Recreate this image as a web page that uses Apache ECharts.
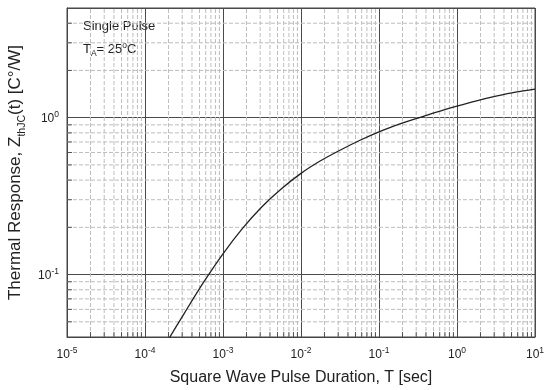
<!DOCTYPE html>
<html>
<head>
<meta charset="utf-8">
<script src="https://cdn.jsdelivr.net/npm/echarts@6/dist/echarts.min.js"></script>
<style>html,body{margin:0;padding:0;background:#fff}#c{width:555px;height:390px}</style>
</head>
<body>
<div id="c"></div>
<script>
// Data (quarter-decade samples of the curve)
var pulseT = [1.78e-4, 3.16e-4, 5.62e-4, 1e-3, 1.78e-3, 3.16e-3, 5.62e-3, 1e-2, 1.78e-2, 3.16e-2, 5.62e-2, 0.1, 0.178, 0.316, 0.562, 1, 1.78, 3.16, 5.62, 10];
var zthJC  = [0.0351, 0.0562, 0.0891, 0.1357, 0.197, 0.2707, 0.3527, 0.4416, 0.531, 0.6199, 0.715, 0.812, 0.905, 0.995, 1.09, 1.1845, 1.28, 1.37, 1.455, 1.52];

var xTicks = [1e-5, 1e-4, 1e-3, 1e-2, 1e-1, 1, 10];
var xTickExp = ['-5', '-4', '-3', '-2', '-1', '0', '1'];
var yTicks = [0.1, 1];
var yTickExp = ['-1', '0'];

var xMinorMant = [2, 3, 4, 5, 6, 7, 8, 9];
var xMinorDecades = [1e-5, 1e-4, 1e-3, 1e-2, 1e-1, 1];
var yMinor = [0.05, 0.06, 0.07, 0.08, 0.09, 0.2, 0.3, 0.4, 0.5, 0.6, 0.7, 0.8, 0.9, 2, 3, 4];

var xMin = 1e-5, xMax = 10, yMin = 0.04, yMax = 5;

var xMinor = [];
xMinorDecades.forEach(function (d) { xMinorMant.forEach(function (m) { xMinor.push(+(m * d).toPrecision(3)); }); });

function tickLabel(v, ticks, exps) {
  for (var i = 0; i < ticks.length; i++) {
    if (Math.abs(Math.log10(v) - Math.log10(ticks[i])) < 1e-6) return '{b|10}{s|' + exps[i] + '}';
  }
  return '';
}

// minor grid lines as gapped polylines
var vGrid = [];
xMinor.forEach(function (v) { vGrid.push([v, yMin], [v, yMax], [v, null]); });
var hGrid = [];
yMinor.forEach(function (v) { hGrid.push([xMin, v], [xMax, v], [null, v]); });

var FONT = '"Liberation Sans", Arial, sans-serif';
var labelRich = {
  b: { fontSize: 12, fontFamily: FONT, color: '#222', verticalAlign: 'bottom', lineHeight: 15 },
  s: { fontSize: 8.5, fontFamily: FONT, color: '#222', verticalAlign: 'top', lineHeight: 15 }
};

var minorLine = { color: '#bdbdbd', width: 1, type: [4, 2] };

var chart = echarts.init(document.getElementById('c'), null, { renderer: 'canvas' });
chart.setOption({
  animation: false,
  backgroundColor: '#fff',
  grid: { left: 67, right: 20, top: 8, bottom: 53, containLabel: false, outerBoundsMode: 'none',
          show: true, borderColor: '#444', borderWidth: 1, backgroundColor: 'transparent' },
  xAxis: {
    type: 'log', logBase: 10, min: xMin, max: xMax,
    name: 'Square Wave Pulse Duration, T [sec]',
    nameLocation: 'middle', nameGap: 33,
    nameTextStyle: { fontSize: 16, fontFamily: FONT, color: '#222' },
    axisLine: { show: true, lineStyle: { color: '#444', width: 1 } },
    axisTick: { show: false },
    axisLabel: { margin: 9, showMinLabel: true, showMaxLabel: true, formatter: function (v) { return tickLabel(v, xTicks, xTickExp); }, rich: labelRich },
    splitLine: { show: true, lineStyle: { color: '#4a4a4a', width: 1 } },
    minorTick: { show: false }, minorSplitLine: { show: false }
  },
  yAxis: {
    type: 'log', logBase: 10, min: yMin, max: yMax,
    name: '{n|Thermal Response, Z}{sub|thJC}{n|(t) [C°/W]}',
    nameLocation: 'middle', nameGap: 38,
    nameTextStyle: { fontSize: 17, fontFamily: FONT, color: '#222',
      rich: {
        n: { fontSize: 17, fontFamily: FONT, color: '#222', verticalAlign: 'top', lineHeight: 20 },
        sub: { fontSize: 10.5, fontFamily: FONT, color: '#222', verticalAlign: 'bottom', lineHeight: 20 }
      } },
    axisLine: { show: true, lineStyle: { color: '#444', width: 1 } },
    axisTick: { show: false },
    axisLabel: { margin: 8, showMinLabel: false, showMaxLabel: false, formatter: function (v) { return tickLabel(v, yTicks, yTickExp); }, rich: labelRich },
    splitLine: { show: true, lineStyle: { color: '#4a4a4a', width: 1 } },
    minorTick: { show: false }, minorSplitLine: { show: false }
  },
  graphic: [
    { type: 'text', left: 83, top: 20, style: { text: 'Single Pulse', font: '13px ' + FONT, fill: '#222' } },
    { type: 'text', left: 83, top: 41, style: {
        text: '{t|T}{a|A}{t|= 25}{o|o}{t|C}',
        rich: {
          t: { font: '13px ' + FONT, fill: '#222', verticalAlign: 'middle', lineHeight: 17 },
          a: { font: '8.5px ' + FONT, fill: '#222', verticalAlign: 'bottom', lineHeight: 17 },
          o: { font: '8.5px ' + FONT, fill: '#222', verticalAlign: 'top', lineHeight: 17 }
        } } }
  ],
  series: [
    {
      type: 'line', silent: true, symbol: 'none', connectNulls: false,
      lineStyle: minorLine, data: vGrid, z: 1
    },
    {
      type: 'line', silent: true, symbol: 'none', connectNulls: false,
      lineStyle: minorLine, data: hGrid, z: 1
    },
    {
      type: 'scatter', silent: true, symbol: 'rect', symbolSize: [1, 5], symbolOffset: [0, -2.5],
      itemStyle: { color: '#333' },
      data: xMinor.map(function (v) { return [v, yMin]; }), z: 3
    },
    {
      type: 'scatter', silent: true, symbol: 'rect', symbolSize: [5, 1], symbolOffset: [2.5, 0],
      itemStyle: { color: '#333' },
      data: yMinor.map(function (v) { return [xMin, v]; }), z: 3
    },
    {
      type: 'line', silent: true, symbol: 'none', smooth: 0.3,
      lineStyle: { color: '#222', width: 1.3 },
      data: pulseT.map(function (t, i) { return [t, zthJC[i]]; }),
      z: 5
    }
  ]
});
</script>
</body>
</html>
